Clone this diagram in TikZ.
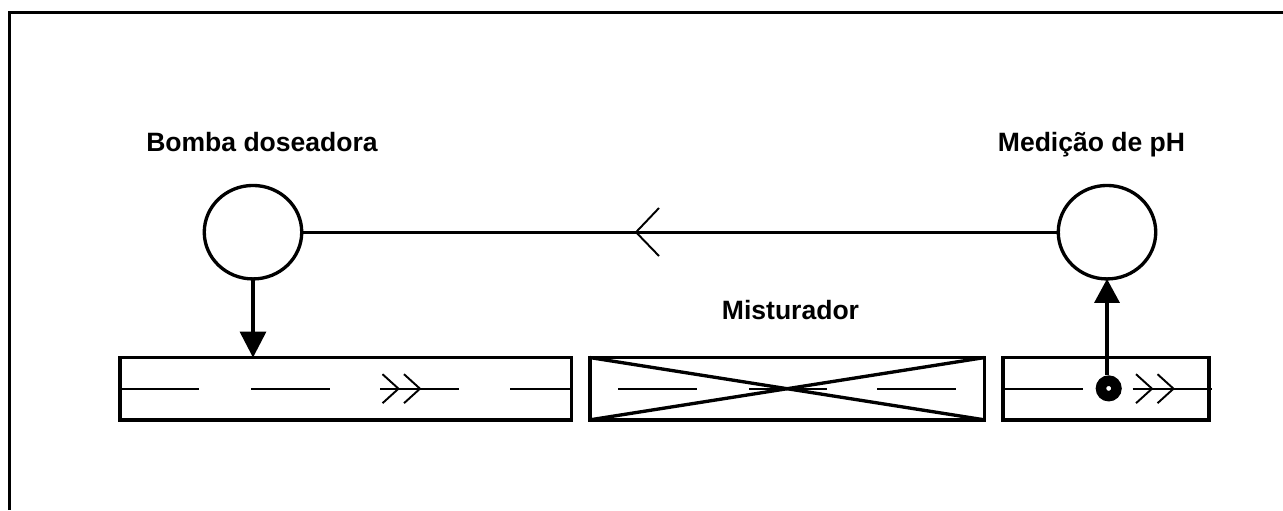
\documentclass[tikz,border=0pt]{standalone}
\usepackage{fontspec}
\setmainfont{Liberation Sans}
\usetikzlibrary{arrows.meta}
\usetikzlibrary{shapes.geometric}
\tikzset{
  caixa/.style={draw, line width=2pt, minimum height=1.246cm, inner sep=0pt, outer sep=0pt},
  bola/.style={draw, ellipse, line width=1.9pt, minimum width=1.95cm, minimum height=1.87cm, inner sep=0pt, outer sep=0pt},
  rotulo/.style={font=\bfseries\fontsize{15.1}{17}\selectfont, inner sep=0pt, anchor=base},
  fluxo/.style={line width=1.1pt},
  sinal/.style={line width=1.9pt}
}
\newcommand{\setadupla}[1]{%
  \draw[fluxo] #1 ++(-16,-14.5) -- ++(16,14.5) -- ++(-16,14.5);
  \draw[fluxo] #1 ++(5.5,-14.5) -- ++(16,14.5) -- ++(-16,14.5);
}
\begin{document}
\begin{tikzpicture}[x=0.02cm,y=-0.02cm]
    \useasboundingbox (0,0) rectangle (1283,510);
    % moldura
    \draw[line width=2pt] (9.7,510) -- (9.7,12.6) -- (1283,12.6);
    % tubos
    \node[caixa, minimum width=9.03cm] (tubo1) at (345.75,388.7) {};
    \node[caixa, minimum width=7.894cm] (misturador) at (787.15,388.7) {};
    \node[caixa, minimum width=4.12cm] (tubo2) at (1106,388.7) {};
    % cruz do misturador
    \draw[sinal] (misturador.north west) -- (misturador.south east);
    \draw[sinal] (misturador.south west) -- (misturador.north east);
    % eixos
    \draw[fluxo] (tubo1.west) -- ++(79,0);
    \draw[fluxo] (251,388.7) -- (330,388.7);
    \draw[fluxo] (380,388.7) -- (459,388.7);
    \draw[fluxo] (510,388.7) -- (tubo1.east);
    \draw[fluxo] (618.3,388.7) -- (696.7,388.7);
    \draw[fluxo] (749,388.7) -- (827,388.7);
    \draw[fluxo] (877.3,388.7) -- (956,388.7);
    \draw[fluxo] (tubo2.west) -- ++(80,0);
    \draw[fluxo] (1132.7,388.7) -- (1211.7,388.7);
    % setas duplas
    \setadupla{(398.5,388.7)}
    \setadupla{(1152,388.7)}
    % circulos
    \node[bola] (bomba) at (253,232.2) {};
    \node[bola] (medidor) at (1107,232.2) {};
    \draw[sinal] (medidor) -- (bomba);
    \coordinate (ponta) at (636,232.2);
    \draw[fluxo] (659,208) -- (ponta) -- (659,256);
    % bomba para o tubo
    \draw[sinal, -{Triangle[length=14.7pt,width=14.7pt]}] (bomba.south) -- (bomba.south |- tubo1.north);
    % sensor
    \node[draw, circle, line width=5.95pt, minimum size=0.31cm, inner sep=0pt] (sensor) at (1108.7,388.4) {};
    \draw[sinal, -{Triangle[length=13.6pt,width=14.2pt]}] (sensor.north -| medidor.south) -- (medidor.south);
    % textos
    \node[rotulo] (t1) at (262,151.5) {Bomba doseadora};
    \node[rotulo] (t2) at (1091.5,151.5) {Medição de pH};
    \node[rotulo] (t3) at (790.5,319) {Misturador};
\end{tikzpicture}
\end{document}
